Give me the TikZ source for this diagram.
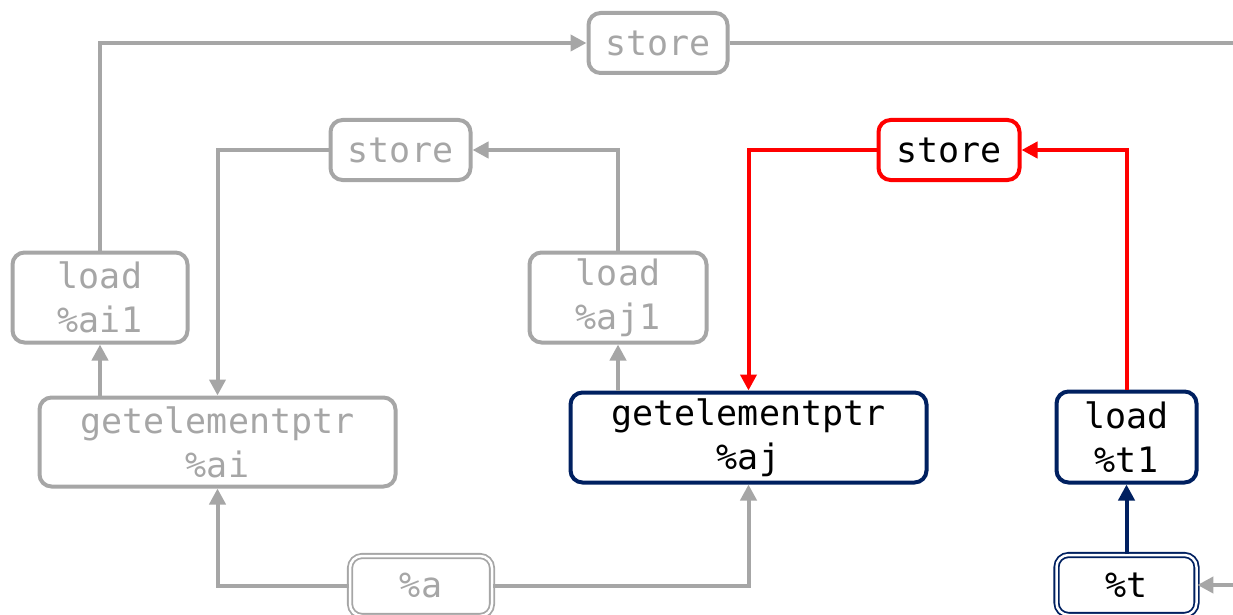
\documentclass[tikz,border=0pt]{standalone}
\usepackage{fontspec}
\setmonofont{DejaVu Sans Mono}
\usetikzlibrary{arrows.meta}
\definecolor{gcol}{HTML}{A6A6A6}
\definecolor{navy}{HTML}{002060}
\definecolor{rcol}{HTML}{FF0000}
\tikzset{
  box/.style={line width=4pt, rounded corners=12pt, align=center, inner sep=0pt,
    font=\ttfamily\fontsize{35}{44}\selectfont},
  gbox/.style={box, draw=gcol, text=gcol},
  rbox/.style={box, draw=rcol, text=black},
  bbox/.style={box, draw=navy, text=black},
  gdbox/.style={box, draw=gcol, text=gcol, line width=1.8pt, double=white, double distance=2.5pt},
  bdbox/.style={box, draw=navy, text=black, line width=1.8pt, double=white, double distance=2.5pt},
  tip/.style={-{Triangle[length=16pt,width=16pt]}},
  gline/.style={draw=gcol, line width=4pt},
  rline/.style={draw=rcol, line width=4pt},
  bline/.style={draw=navy, line width=4pt},
}
\begin{document}
\begin{tikzpicture}[x=1pt,y=-1pt]
\useasboundingbox (0,0) rectangle (1233,615);
\node[gbox, minimum width=139pt, minimum height=60pt] (st1) at (658,43) {store};
\node[gbox, minimum width=140pt, minimum height=60pt] (st2) at (400.5,150) {store};
\node[rbox, minimum width=141pt, minimum height=60pt] (st3) at (949,150) {store};
\node[gbox, minimum width=175pt, minimum height=90pt] (ai1) at (100,297.5) {load\\\%ai1};
\node[gbox, minimum width=177pt, minimum height=90pt] (aj1) at (618,297.5) {load\\\%aj1};
\node[gbox, minimum width=356pt, minimum height=89pt] (gai) at (217.5,442) {getelementptr\\\%ai};
\node[bbox, minimum width=356pt, minimum height=90pt] (gaj) at (748.5,437.5) {getelementptr\\\%aj};
\node[bbox, minimum width=140pt, minimum height=91pt] (t1) at (1126.5,437) {load\\\%t1};
\node[gdbox, minimum width=142pt, minimum height=60pt] (a) at (421,586) {\%a};
\node[bdbox, minimum width=140pt, minimum height=60pt] (t) at (1126.5,585) {\%t};
\coordinate (r1) at (1233,43);
\coordinate (r2) at (1233,585);
% gray connectors
\draw[gline, tip] (ai1.north) |- (st1.west);
\draw[gline] (st1.east) -- (r1);
\draw[gline, tip] (st2.west) -| (gai.north);
\draw[gline, tip] (aj1.north) |- (st2.east);
\draw[gline, tip] (ai1.south |- gai.north) -- (ai1.south);
\draw[gline, tip] (aj1.south |- gaj.north) -- (aj1.south);
\draw[gline, tip] (a.west) -| (gai.south);
\draw[gline, tip] (a.east) -| (gaj.south);
\draw[gline, tip] (r2) -- (t.east);
% red connectors
\draw[rline, tip] (st3.west) -| (gaj.north);
\draw[rline, tip] (t1.north) |- (st3.east);
% blue connector
\draw[bline, tip] (t.north) -- (t1.south);
\end{tikzpicture}
\end{document}
